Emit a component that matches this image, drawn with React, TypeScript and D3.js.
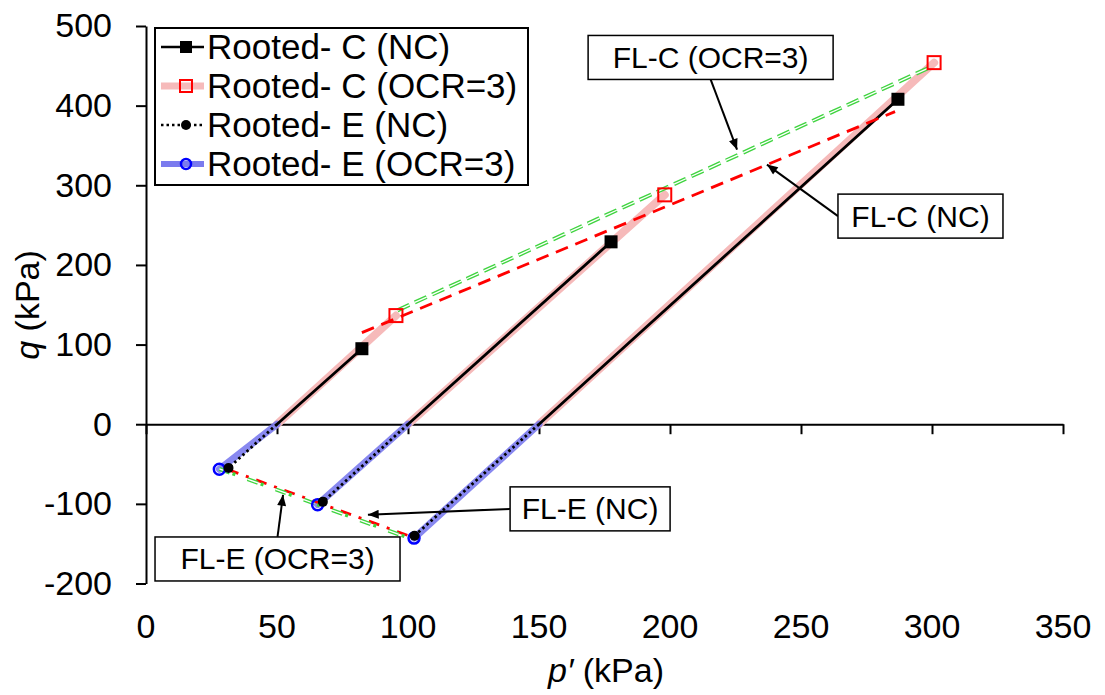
import React, { useEffect, useRef } from 'react';
import * as d3 from 'd3';

const W = 1105;
const H = 695;
const FONT = '"Liberation Sans", Arial, sans-serif';

type Pt = [number, number];

// each stress path runs from its start point to its peak/end point [p', q] (kPa)
const rootedC_NC: Pt[][] = [
  [[50, 0], [82.4, 94.8]],
  [[100, 0], [177.5, 229]],
  [[150, 0], [287, 408]],
];
const rootedC_OCR3: Pt[][] = [
  [[50, 0], [95.4, 136.4]],
  [[100, 0], [198, 288]],
  [[150, 0], [300.8, 454]],
];
const rootedE_NC: Pt[][] = [
  [[50, 0], [31.5, -55]],
  [[100, 0], [67.5, -97.5]],
  [[150, 0], [102.5, -140]],
];
const rootedE_OCR3: Pt[][] = [
  [[50, 0], [28, -56.5]],
  [[100, 0], [65.5, -101]],
  [[150, 0], [102.3, -143]],
];

// failure lines
const flC_NC: Pt[] = [[82.4, 115], [285.9, 392.5]];
const flC_OCR3: Pt[] = [[96, 143], [300.5, 450]];
const flE_NC: Pt[] = [[31.3, -57], [101.5, -141.5]];
const flE_OCR3: Pt[] = [[28, -56], [102, -145]];

const xTicks = [0, 50, 100, 150, 200, 250, 300, 350];
const yTicks = [-200, -100, 0, 100, 200, 300, 400, 500];

const legendLabels = ['Rooted- C (NC)', 'Rooted- C (OCR=3)', 'Rooted- E (NC)', 'Rooted- E (OCR=3)'];

// callouts: box centre and arrow tip in data units
const callouts = [
  { label: 'FL-C (OCR=3)', box: [215.5, 460.5], w: 245, tip: [225.6, 344.7], from: 'bottom' },
  { label: 'FL-C (NC)', box: [295.6, 261.3], w: 165, tip: [237, 326], from: 'left' },
  { label: 'FL-E (NC)', box: [169.5, -106.3], w: 160, tip: [84.7, -113.6], from: 'left' },
  { label: 'FL-E (OCR=3)', box: [50.2, -169.2], w: 245, tip: [52.3, -88.7], from: 'top' },
];

const PINK = '#f6baba';
const BLUE = '#7b7bee';
const GREEN = '#3fd43f';
const RED = '#ff0000';

export default function App() {
  const ref = useRef<SVGSVGElement>(null);

  useEffect(() => {
    document.body.style.margin = '0';
    const svg = d3.select(ref.current);
    svg.selectAll('*').remove();

    const x = d3.scaleLinear().domain([0, 350]).range([146, 1063]);
    const y = d3.scaleLinear().domain([-200, 500]).range([583.5, 26]);
    const line = d3.line<Pt>().x(d => x(d[0])).y(d => y(d[1]));

    svg.append('defs').append('marker')
      .attr('id', 'arr')
      .attr('markerUnits', 'userSpaceOnUse')
      .attr('viewBox', '0 0 12 10')
      .attr('refX', 12).attr('refY', 5)
      .attr('markerWidth', 13).attr('markerHeight', 9)
      .attr('orient', 'auto')
      .append('path').attr('d', 'M0,0L12,5L0,10Z').attr('fill', '#000');

    // y axis
    const gy = svg.append('g').attr('transform', `translate(${x(0)},0)`)
      .call(d3.axisLeft(y).tickValues(yTicks).tickSize(10).tickSizeOuter(0).tickPadding(24)
        .tickFormat(d => String(d)));
    gy.select('.domain').attr('stroke-width', 2);
    gy.selectAll('.tick line').attr('stroke-width', 2);
    gy.selectAll('.tick text').attr('font-size', 34).attr('font-family', FONT).attr('fill', '#000');

    // x axis crossing at q = 0, labels low
    const gx = svg.append('g').attr('transform', `translate(0,${y(0)})`)
      .call(d3.axisBottom(x).tickValues(xTicks).tickSize(10).tickSizeOuter(0).tickFormat(() => ''));
    gx.select('.domain').attr('stroke-width', 2);
    gx.selectAll('.tick line').attr('stroke-width', 2);
    svg.append('g').selectAll('text').data(xTicks).enter().append('text')
      .attr('x', d => x(d)).attr('y', 638)
      .attr('text-anchor', 'middle').attr('font-size', 34).attr('font-family', FONT)
      .text(d => d);

    // axis titles
    const yt = svg.append('text').attr('transform', 'translate(39,305) rotate(-90)')
      .attr('text-anchor', 'middle').attr('font-size', 34).attr('font-family', FONT);
    yt.append('tspan').attr('font-style', 'italic').text('q');
    yt.append('tspan').text(' (kPa)');
    const xt = svg.append('text').attr('x', 606).attr('y', 682)
      .attr('text-anchor', 'middle').attr('font-size', 34).attr('font-family', FONT);
    xt.append('tspan').attr('font-style', 'italic').text('p′');
    xt.append('tspan').text(' (kPa)');

    const g = svg.append('g');
    const paths = (data: Pt[][], stroke: string, width: number, dash?: string, op = 1) =>
      g.append('g').selectAll('path').data(data).enter().append('path')
        .attr('d', d => line(d)).attr('fill', 'none')
        .attr('stroke', stroke).attr('stroke-width', width)
        .attr('stroke-dasharray', dash || null).attr('stroke-opacity', op)
        .attr('stroke-linecap', dash ? 'butt' : 'round');

    paths(rootedC_OCR3, PINK, 8);
    paths(rootedE_OCR3, BLUE, 7, undefined, 0.9);
    paths(rootedC_NC, '#000', 2.8);
    paths(rootedE_NC, '#000', 2.8, '2.5,3');

    // failure lines
    const fl = (d: Pt[], stroke: string, w: number, dash: string) =>
      g.append('path').attr('d', line(d)).attr('fill', 'none')
        .attr('stroke', stroke).attr('stroke-width', w).attr('stroke-dasharray', dash);
    fl(flC_NC, RED, 2.8, '13,8');
    fl(flC_OCR3, GREEN, 4, '13,6');
    fl(flC_OCR3, '#fff', 1.3, '13,6');
    fl(flE_NC, RED, 2.8, '11,8,3,8');
    fl(flE_OCR3, GREEN, 4, '11,19');
    fl(flE_OCR3, '#fff', 1.3, '11,19');
    g.append('path').attr('d', line(flE_OCR3)).attr('fill', 'none')
      .attr('stroke', GREEN).attr('stroke-width', 3.5)
      .attr('stroke-dasharray', '3,27').attr('stroke-dashoffset', -14);

    // markers at the path ends
    const ends = (data: Pt[][]) => data.map(d => d[d.length - 1]);
    g.append('g').selectAll('rect').data(ends(rootedC_NC)).enter().append('rect')
      .attr('x', d => x(d[0]) - 6.5).attr('y', d => y(d[1]) - 6.5)
      .attr('width', 13).attr('height', 13).attr('fill', '#000');
    g.append('g').selectAll('rect').data(ends(rootedC_OCR3)).enter().append('rect')
      .attr('x', d => x(d[0]) - 6.5).attr('y', d => y(d[1]) - 6.5)
      .attr('width', 13).attr('height', 13).attr('fill', 'none')
      .attr('stroke', RED).attr('stroke-width', 2);
    g.append('g').selectAll('circle').data(ends(rootedE_OCR3)).enter().append('circle')
      .attr('cx', d => x(d[0])).attr('cy', d => y(d[1])).attr('r', 5.5)
      .attr('fill', 'none').attr('stroke', '#0000ff').attr('stroke-width', 2.5);
    g.append('g').selectAll('circle').data(ends(rootedE_NC)).enter().append('circle')
      .attr('cx', d => x(d[0])).attr('cy', d => y(d[1])).attr('r', 5)
      .attr('fill', '#000');

    // callouts
    callouts.forEach(c => {
      const cx = x(c.box[0]);
      const cy = y(c.box[1]);
      const h = 44;
      const tail = c.from === 'bottom' ? [cx, cy + h / 2]
        : c.from === 'top' ? [cx, cy - h / 2] : [cx - c.w / 2, cy];
      svg.append('line')
        .attr('x1', tail[0]).attr('y1', tail[1])
        .attr('x2', x(c.tip[0])).attr('y2', y(c.tip[1]))
        .attr('stroke', '#000').attr('stroke-width', 2)
        .attr('marker-end', 'url(#arr)');
      svg.append('rect')
        .attr('x', cx - c.w / 2).attr('y', cy - h / 2)
        .attr('width', c.w).attr('height', h)
        .attr('fill', '#fff').attr('stroke', '#000').attr('stroke-width', 1.5);
      svg.append('text').attr('x', cx).attr('y', cy + 10.5)
        .attr('text-anchor', 'middle').attr('font-size', 30).attr('font-family', FONT)
        .text(c.label);
    });

    // legend
    const lg = svg.append('g');
    lg.append('rect').attr('x', 155).attr('y', 28).attr('width', 373).attr('height', 157)
      .attr('fill', '#fff').attr('stroke', '#000').attr('stroke-width', 2);
    const rowY = (i: number) => 47 + i * 39;
    const x1 = 161, x2 = 204, mx = 186;
    // C NC
    lg.append('line').attr('x1', x1).attr('x2', x2).attr('y1', rowY(0)).attr('y2', rowY(0))
      .attr('stroke', '#000').attr('stroke-width', 2.5);
    lg.append('rect').attr('x', mx - 6).attr('y', rowY(0) - 6).attr('width', 12).attr('height', 12).attr('fill', '#000');
    // C OCR3
    lg.append('line').attr('x1', x1).attr('x2', x2).attr('y1', rowY(1)).attr('y2', rowY(1))
      .attr('stroke', PINK).attr('stroke-width', 7);
    lg.append('rect').attr('x', mx - 6).attr('y', rowY(1) - 6).attr('width', 12).attr('height', 12)
      .attr('fill', 'none').attr('stroke', RED).attr('stroke-width', 2);
    // E NC
    lg.append('line').attr('x1', x1).attr('x2', x2).attr('y1', rowY(2)).attr('y2', rowY(2))
      .attr('stroke', '#000').attr('stroke-width', 2.5).attr('stroke-dasharray', '2.5,3');
    lg.append('circle').attr('cx', mx).attr('cy', rowY(2)).attr('r', 5).attr('fill', '#000');
    // E OCR3
    lg.append('line').attr('x1', x1).attr('x2', x2).attr('y1', rowY(3)).attr('y2', rowY(3))
      .attr('stroke', BLUE).attr('stroke-width', 6);
    lg.append('circle').attr('cx', mx).attr('cy', rowY(3)).attr('r', 5)
      .attr('fill', 'none').attr('stroke', '#0000ff').attr('stroke-width', 2.5);
    lg.selectAll('text.lab').data(legendLabels).enter().append('text')
      .attr('class', 'lab')
      .attr('x', 207).attr('y', (d, i) => rowY(i) + 12)
      .attr('font-size', 35).attr('font-family', FONT)
      .text(d => d);
  }, []);

  return <svg ref={ref} width={W} height={H} style={{ display: 'block', background: '#fff' }} />;
}
